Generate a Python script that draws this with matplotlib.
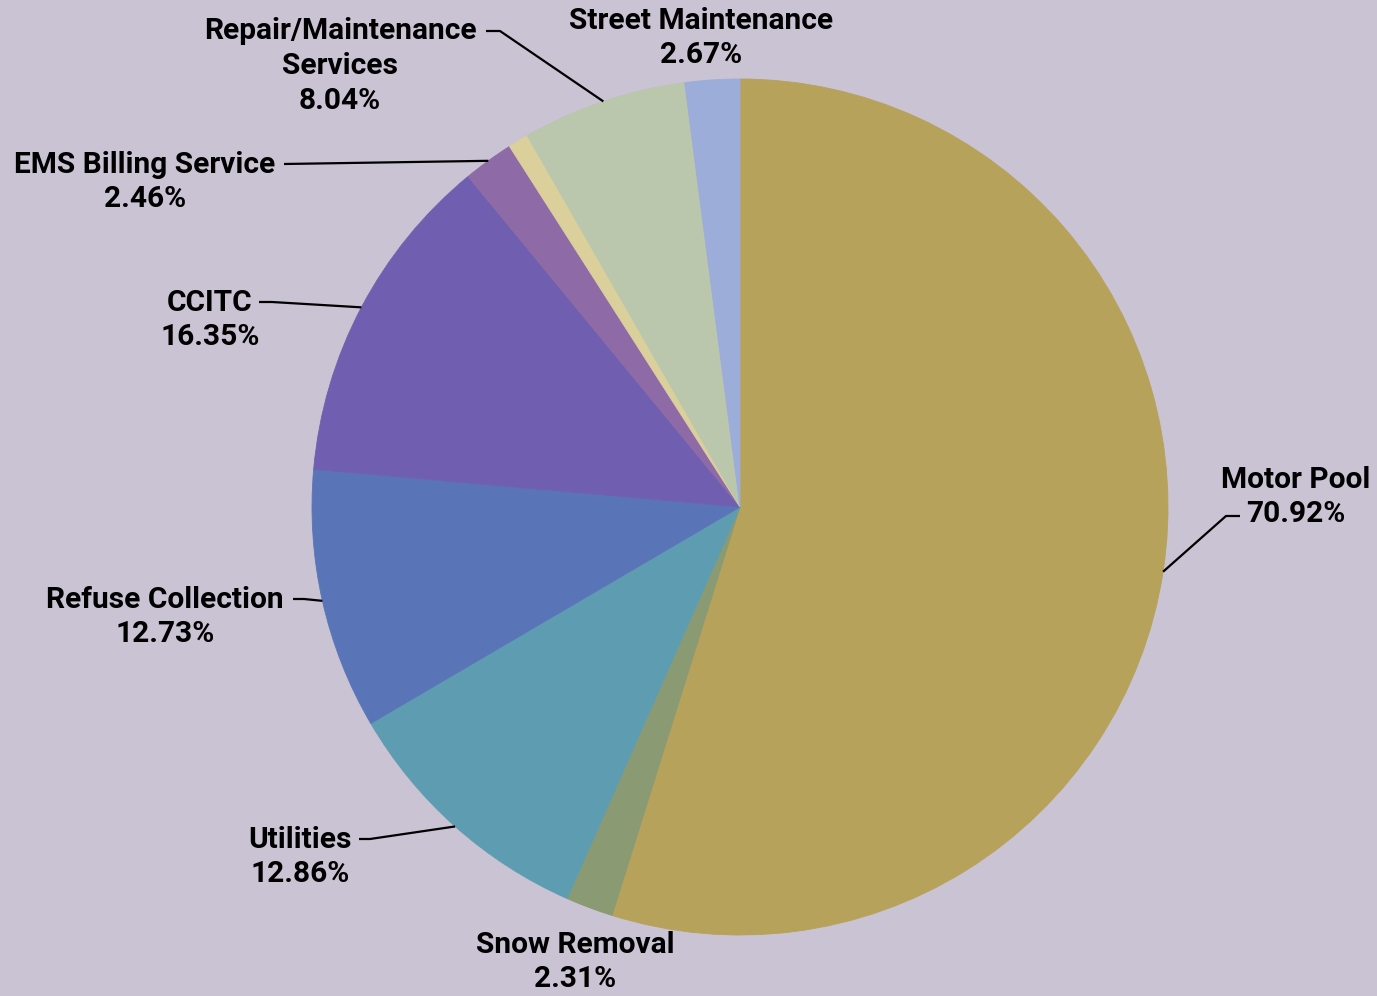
import numpy as np
import matplotlib.pyplot as plt

# Share of internal service charges by department (percent)
categories = ['Motor Pool', 'Snow Removal', 'Utilities', 'Refuse Collection', 'CCITC',
              'EMS Billing Service', 'Other', 'Repair/Maintenance\nServices',
              'Street Maintenance']
shares = [70.92, 2.31, 12.86, 12.73, 16.35, 2.46, 1.00, 8.04, 2.67]
labelled = [True, True, True, True, True, True, False, True, True]

colors = ['#B6A25B', '#8A9A72', '#5E9DB1', '#5A75B7', '#705FB0',
          '#8E6BA6', '#DBCF9C', '#BAC7AC', '#9DADDA']
bg = '#C9C3D3'

# figure size in pixels, pie centre and radius in pixels
W, H = 1377, 996
CX, CY, R = 740, 507, 428


def px(x, y):
    """pixel position -> data coordinates (pie radius = 1)"""
    return (x - CX) / R, (CY - y) / R


# label block centre and optional leader points (near text first), in pixels
label_layout = {
    'Motor Pool': ((1296, 497), [(1240, 516), (1226, 516)]),
    'Snow Removal': ((575, 962), []),
    'Utilities': ((300, 857), [(359, 839), (370, 839)]),
    'Refuse Collection': ((165, 617), [(293, 599), (304, 599)]),
    'CCITC': ((210, 320), [(259, 302), (272, 302)]),
    'EMS Billing Service': ((145, 182), [(284, 164)]),
    'Repair/Maintenance\nServices': ((340, 66), [(486, 31), (500, 31)]),
    'Street Maintenance': ((701, 38), []),
}

fig = plt.figure(figsize=(W / 100, H / 100), dpi=100, facecolor=bg)
ax = fig.add_axes([0, 0, 1, 1])
ax.set_facecolor(bg)

wedges, _ = ax.pie(shares, colors=colors, startangle=90, counterclock=False,
                   radius=1, center=(0, 0), wedgeprops=dict(linewidth=0.6))
for w in wedges:
    w.set_edgecolor(w.get_facecolor())

ax.set_xlim(-CX / R, (W - CX) / R)
ax.set_ylim(-(H - CY) / R, CY / R)
ax.set_aspect('equal')
ax.axis('off')

for w, name, val, show in zip(wedges, categories, shares, labelled):
    if not show:
        continue
    (tx, ty), leader = label_layout[name]
    ax.text(*px(tx, ty), f'{name}\n{val:.2f}%', ha='center', va='center',
            fontsize=21.5, fontweight='bold', family=['Roboto', 'DejaVu Sans'],
            linespacing=1.3, color='black')
    if leader:
        mid = np.deg2rad((w.theta1 + w.theta2) / 2)
        pts = [px(*p) for p in leader] + [(np.cos(mid), np.sin(mid))]
        xs, ys = zip(*pts)
        ax.plot(xs, ys, color='black', lw=1.6, solid_capstyle='butt')

fig.savefig('out.png', dpi=100, facecolor=bg)
